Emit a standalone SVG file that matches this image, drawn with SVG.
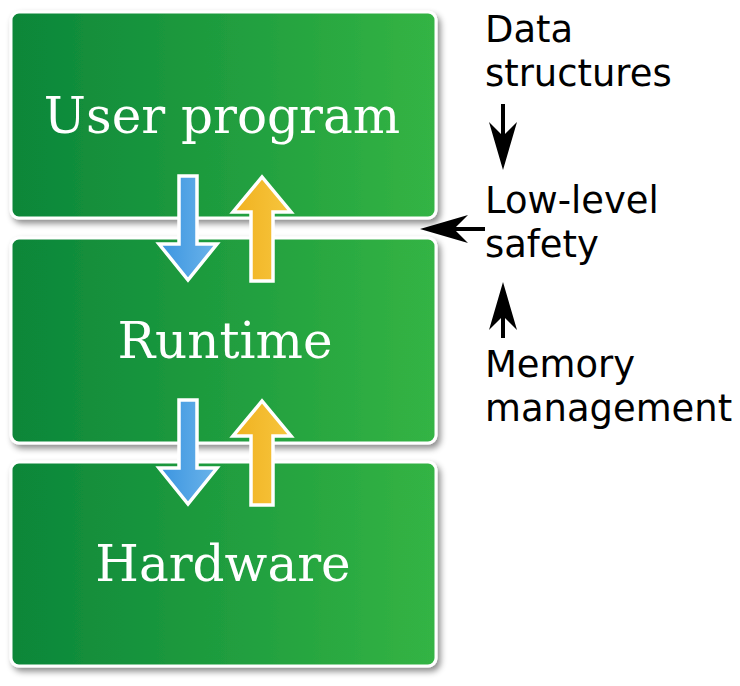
<svg xmlns="http://www.w3.org/2000/svg" width="740" height="686" viewBox="0 0 740 686">
<defs>
<linearGradient id="gGreen" x1="0" y1="0" x2="1" y2="0">
<stop offset="0" stop-color="#0b8639"/>
<stop offset="1" stop-color="#34b444"/>
</linearGradient>
<linearGradient id="gBlue" x1="0" y1="0" x2="1" y2="0">
<stop offset="0" stop-color="#3a94e0"/>
<stop offset="1" stop-color="#6cb4ea"/>
</linearGradient>
<linearGradient id="gOrange" x1="0" y1="0" x2="1" y2="0">
<stop offset="0" stop-color="#f0b11f"/>
<stop offset="1" stop-color="#f7c63f"/>
</linearGradient>
<filter id="shadow" x="-10%" y="-10%" width="125%" height="130%">
<feDropShadow dx="3" dy="4" stdDeviation="3" flood-color="#000" flood-opacity="0.45"/>
</filter>
</defs>
<style>
.box{fill:url(#gGreen);stroke:#fff;stroke-width:3;filter:url(#shadow)}
.btxt{font-family:"DejaVu Serif",serif;font-size:50px;fill:#fff;text-anchor:middle}
.side{font-family:"DejaVu Sans",sans-serif;font-size:36.9px;fill:#000}
.down{fill:url(#gBlue);stroke:#fff;stroke-width:3.5;stroke-linejoin:miter}
.up{fill:url(#gOrange);stroke:#fff;stroke-width:3.5;stroke-linejoin:miter}
.ln{stroke:#000;stroke-width:4;fill:none}
.hd{fill:#000}
</style>
<rect width="740" height="686" fill="#fff"/>
<g id="user-program">
<rect class="box" x="11" y="12" width="425" height="206" rx="8"/>
<text class="btxt" x="222" y="133">User program</text>
</g>
<g id="runtime">
<rect class="box" x="11" y="238" width="425" height="205" rx="8"/>
<text class="btxt" x="225" y="358">Runtime</text>
</g>
<g id="hardware">
<rect class="box" x="11" y="462" width="425" height="204" rx="8"/>
<text class="btxt" x="223" y="581">Hardware</text>
</g>
<g id="side-labels">
<text class="side" x="485" y="42">Data</text>
<text class="side" x="485" y="86">structures</text>
<text class="side" x="485" y="213">Low-level</text>
<text class="side" x="485" y="257">safety</text>
<text class="side" x="485" y="377">Memory</text>
<text class="side" x="485" y="421">management</text>
</g>
<g id="connectors">
<path class="down" d="M179,176 L197,176 L197,244 L217,244 L188,280 L159,244 L179,244 Z"/>
<path class="up" d="M251,281 L273,281 L273,212 L291,212 L262,177 L233,212 L251,212 Z"/>
<path class="down" d="M179,400 L197,400 L197,468 L217,468 L188,504 L159,468 L179,468 Z"/>
<path class="up" d="M251,505 L273,505 L273,436 L291,436 L262,401 L233,436 L251,436 Z"/>
<line class="ln" x1="503" y1="104" x2="503" y2="138"/>
<path class="hd" d="M503,170 L517,122 Q509,130 503,136 Q497,130 489,122 Z"/>
<line class="ln" x1="503" y1="338" x2="503" y2="314"/>
<path class="hd" d="M503,282 L517,330 Q509,322 503,316 Q497,322 489,330 Z"/>
<line class="ln" x1="485" y1="229" x2="452" y2="229"/>
<path class="hd" d="M420,229 L468,215 Q460,223 454,229 Q460,235 468,243 Z"/>
</g>
</svg>
